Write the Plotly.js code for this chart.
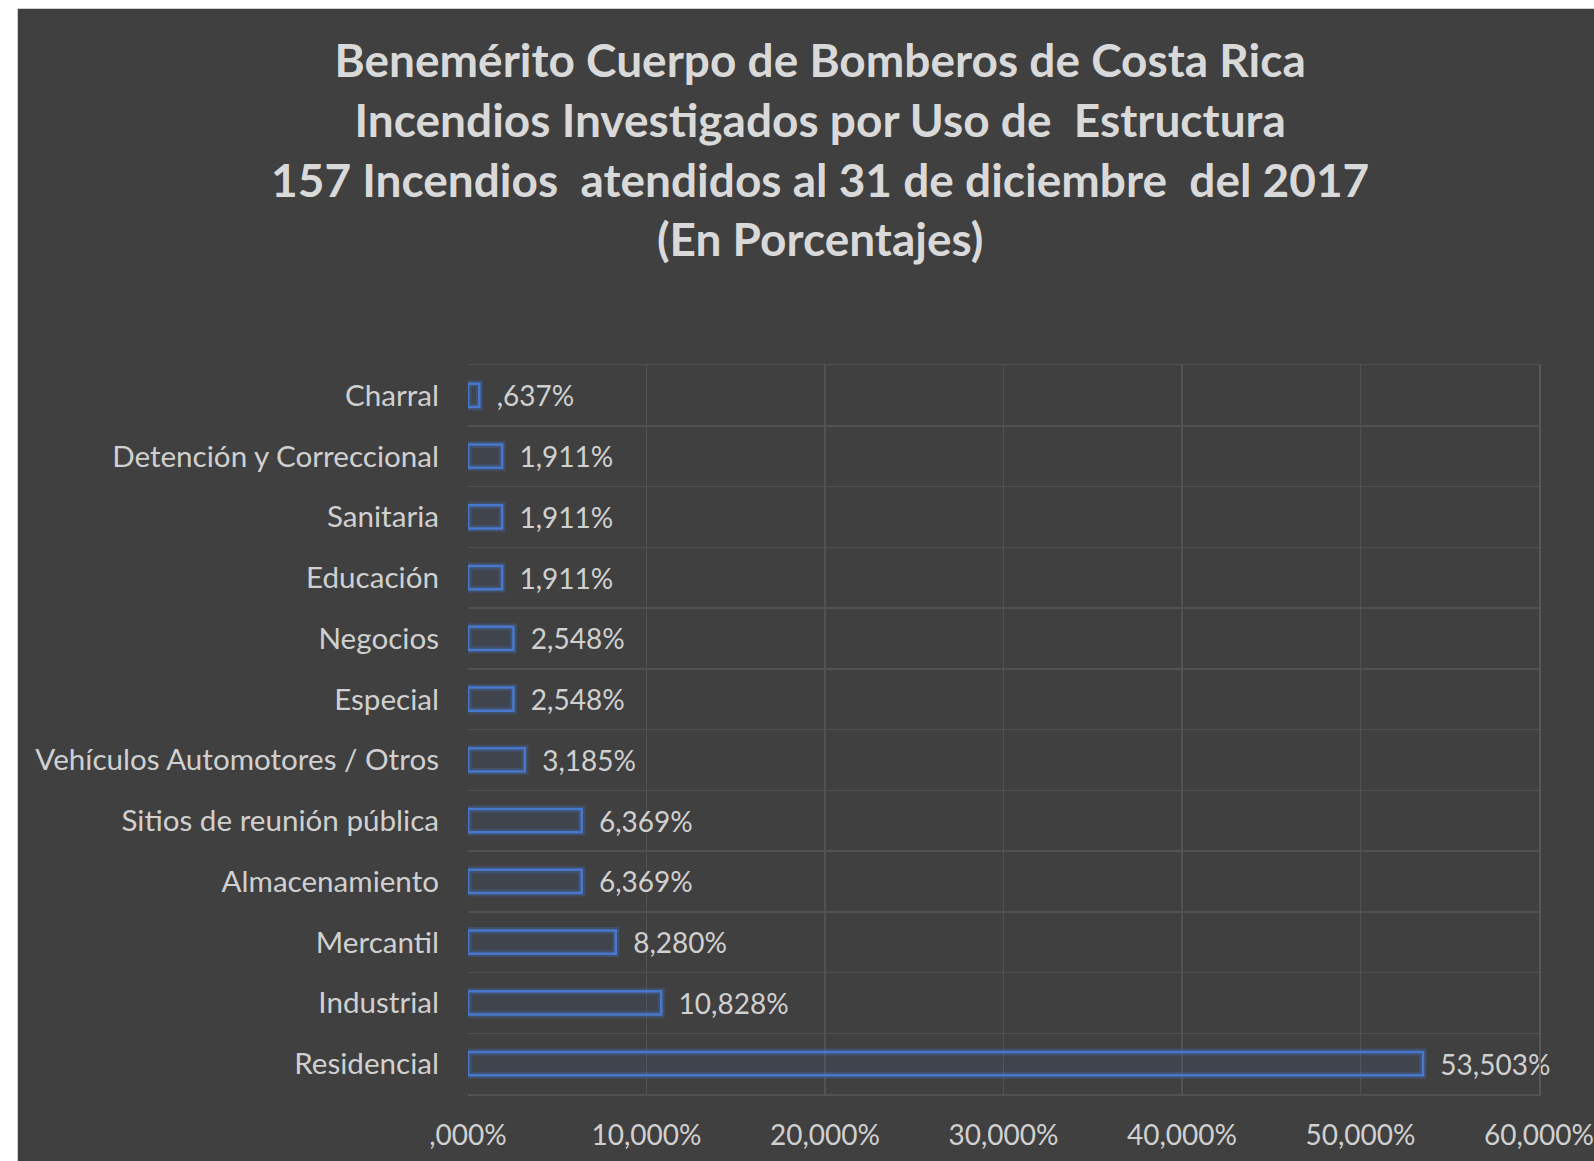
<!DOCTYPE html>
<html>
<head>
<meta charset="utf-8">
<script src="https://cdn.plot.ly/plotly-3.0.1.min.js"></script>
<style>
  html, body { margin: 0; padding: 0; background: #ffffff; }
  #chart { position: absolute; left: 17px; top: 8px; width: 1576px; height: 1152px;
           border-left: 1px solid #d0d0d0; border-top: 1px solid #d0d0d0; }
</style>
</head>
<body>
<div id="chart"></div>
<script>
// Data (top to bottom as drawn)
const categories = [
  "Charral",
  "Detención y Correccional",
  "Sanitaria",
  "Educación",
  "Negocios",
  "Especial",
  "Vehículos Automotores / Otros",
  "Sitios de reunión pública",
  "Almacenamiento",
  "Mercantil",
  "Industrial",
  "Residencial"
];
const percentages = [0.637, 1.911, 1.911, 1.911, 2.548, 2.548, 3.185, 6.369, 6.369, 8.280, 10.828, 53.503];
const tickValues = [0, 10, 20, 30, 40, 50, 60];
const tickLabels = [",000%", "10,000%", "20,000%", "30,000%", "40,000%", "50,000%", "60,000%"];

function fmt(v) {
  let s = v.toFixed(3).replace('.', ',');
  if (s.startsWith('0,')) s = s.slice(1);
  return '  ' + s + '%';
}
const labels = percentages.map(fmt);

const FONT = "Lato, 'Open Sans', sans-serif";
const TXT = "#d0d0d0";
const GRID = "#525252";

const glow = {
  type: 'bar', orientation: 'h',
  x: percentages, y: categories, yaxis: 'y2',
  marker: { color: 'rgba(0,0,0,0)', line: { color: 'rgba(68,114,196,0.28)', width: 7 } },
  hoverinfo: 'skip', showlegend: false
};
const bars = {
  type: 'bar', orientation: 'h',
  x: percentages, y: categories,
  text: labels, textposition: 'outside', constraintext: 'none', cliponaxis: false,
  textfont: { family: FONT, size: 28, color: TXT },
  marker: { color: 'rgba(68,114,196,0.10)', line: { color: '#4a7bd0', width: 2.5 } },
  showlegend: false
};

const layout = {
  width: 1576, height: 1152,
  paper_bgcolor: '#404040', plot_bgcolor: '#404040',
  margin: { l: 450, r: 55, t: 356, b: 67 },
  barmode: 'overlay', bargap: 0.62,
  title: {
    text: "<b>Benemérito Cuerpo de Bomberos de Costa Rica<br>Incendios Investigados por Uso de  Estructura<br>157 Incendios  atendidos al 31 de diciembre  del 2017<br>(En Porcentajes)</b>",
    font: { family: FONT, size: 46, color: '#d9d9d9' },
    x: 0.509, xanchor: 'center', y: 0.941, yanchor: 'middle'
  },
  xaxis: {
    range: [0, 60], tickvals: tickValues, ticktext: tickLabels,
    showgrid: true, gridcolor: GRID, gridwidth: 1.5, zeroline: false,
    showline: true, mirror: true, linecolor: GRID, linewidth: 1.5,
    ticks: '', ticklabelstandoff: 16,
    tickfont: { family: FONT, size: 28, color: TXT }, fixedrange: true
  },
  yaxis: {
    type: 'category', autorange: 'reversed', tickson: 'boundaries',
    showgrid: true, gridcolor: GRID, gridwidth: 1.5, showline: false,
    ticks: '', ticklabelstandoff: 28,
    tickfont: { family: FONT, size: 29.6, color: TXT }, fixedrange: true
  },
  yaxis2: {
    type: 'category', autorange: 'reversed', matches: 'y',
    overlaying: 'y', side: 'right', showline: true, linecolor: '#575757', linewidth: 2,
    showgrid: false, zeroline: false, showticklabels: false, ticks: '', fixedrange: true
  }
};

Plotly.newPlot('chart', [glow, bars], layout, { displayModeBar: false, staticPlot: true });
</script>
</body>
</html>
